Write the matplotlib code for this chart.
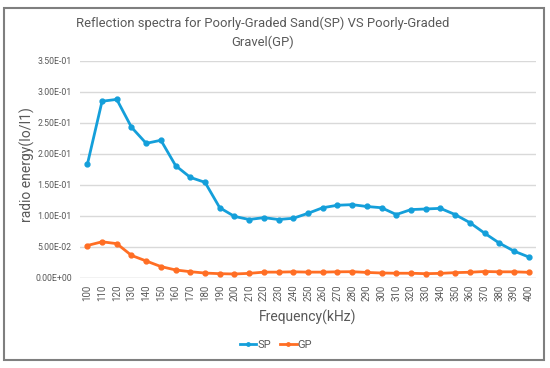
import matplotlib
matplotlib.use("Agg")
import matplotlib.pyplot as plt
from matplotlib.patches import Rectangle

frequencies = [100, 110, 120, 130, 140, 150, 160, 170, 180, 190, 200, 210, 220, 230, 240, 250,
               260, 270, 280, 290, 300, 310, 320, 330, 340, 350, 360, 370, 380, 390, 400]
sp_values = [0.183, 0.285, 0.288, 0.243, 0.217, 0.222, 0.181, 0.162, 0.154, 0.113, 0.099,
             0.094, 0.097, 0.094, 0.096, 0.104, 0.113, 0.117, 0.118, 0.115, 0.113, 0.102,
             0.110, 0.111, 0.112, 0.102, 0.089, 0.072, 0.056, 0.043, 0.0335]
gp_values = [0.052, 0.058, 0.055, 0.036, 0.027, 0.018, 0.0125, 0.0097, 0.0075, 0.0065, 0.006,
             0.007, 0.009, 0.009, 0.0095, 0.009, 0.009, 0.0095, 0.0097, 0.0085, 0.0076, 0.0072,
             0.0072, 0.0065, 0.007, 0.0082, 0.0088, 0.010, 0.0095, 0.0095, 0.0087]
y_ticks = [0.0, 0.05, 0.10, 0.15, 0.20, 0.25, 0.30, 0.35]
y_tick_labels = ["0.00E+00", "5.00E-02", "1.00E-01", "1.50E-01", "2.00E-01", "2.50E-01",
                 "3.00E-01", "3.50E-01"]

plt.rcParams['font.family'] = ['Roboto', 'DejaVu Sans']
W, H = 550, 368
fig = plt.figure(figsize=(W / 100, H / 100), dpi=100)

def fx(px):
    return px / W

def fy(py):
    return 1 - py / H

left, right, top, bottom = 80, 536, 61, 277.7
ax = fig.add_axes([fx(left), fy(bottom), fx(right) - fx(left), fy(top) - fy(bottom)])

x = list(range(len(frequencies)))
blue = '#149FDA'
orange = '#FF6E24'
ax.plot(x, sp_values, color=blue, lw=2, marker='o', ms=3.5, label='SP', zorder=3)
ax.plot(x, gp_values, color=orange, lw=2, marker='o', ms=3.5, label='GP', zorder=3)

ax.set_xlim(-0.5, len(frequencies) - 0.5)
ax.set_ylim(0, 0.35)
ax.set_yticks(y_ticks)
ax.set_yticklabels(y_tick_labels, fontsize=6.3, color='#595959')
ax.set_xticks(x)
ax.set_xticklabels([str(f) for f in frequencies], rotation=90, fontsize=7, color='#595959')
ax.tick_params(length=0, pad=6)
ax.tick_params(axis='x', pad=5)
for s in ax.spines.values():
    s.set_visible(False)
for yv in y_ticks:
    ax.axhline(yv, color='#D9D9D9' if yv > 0 else '#BFBFBF', lw=1, zorder=1)

fig.text(fx(27), fy(165), 'radio energy(Io/I1)', rotation=90, ha='center', va='center',
         fontsize=10, color='#595959')
fig.text(fx(308), fy(317), 'Frequency(kHz)', ha='center', va='center', fontsize=10,
         color='#595959')
fig.text(fx(263), fy(33), 'Reflection spectra for Poorly-Graded Sand(SP) VS Poorly-Graded\nGravel(GP)',
         ha='center', va='center', fontsize=9.4, color='#595959', linespacing=1.5)

fig.legend(handles=ax.get_lines(), labels=['SP', 'GP'], loc='center',
           bbox_to_anchor=(fx(276), fy(345)), ncol=2, frameon=False, fontsize=8,
           labelcolor='#595959', handlelength=1.5, handletextpad=0.1, columnspacing=0.8,
           markerscale=0.7)

fig.patches.append(Rectangle((fx(4), fy(360)), fx(544) - fx(4), fy(8) - fy(360),
                             transform=fig.transFigure, fill=False, edgecolor='#7F7F7F',
                             lw=1.5))

fig.savefig('out.png', dpi=100, facecolor='white')
